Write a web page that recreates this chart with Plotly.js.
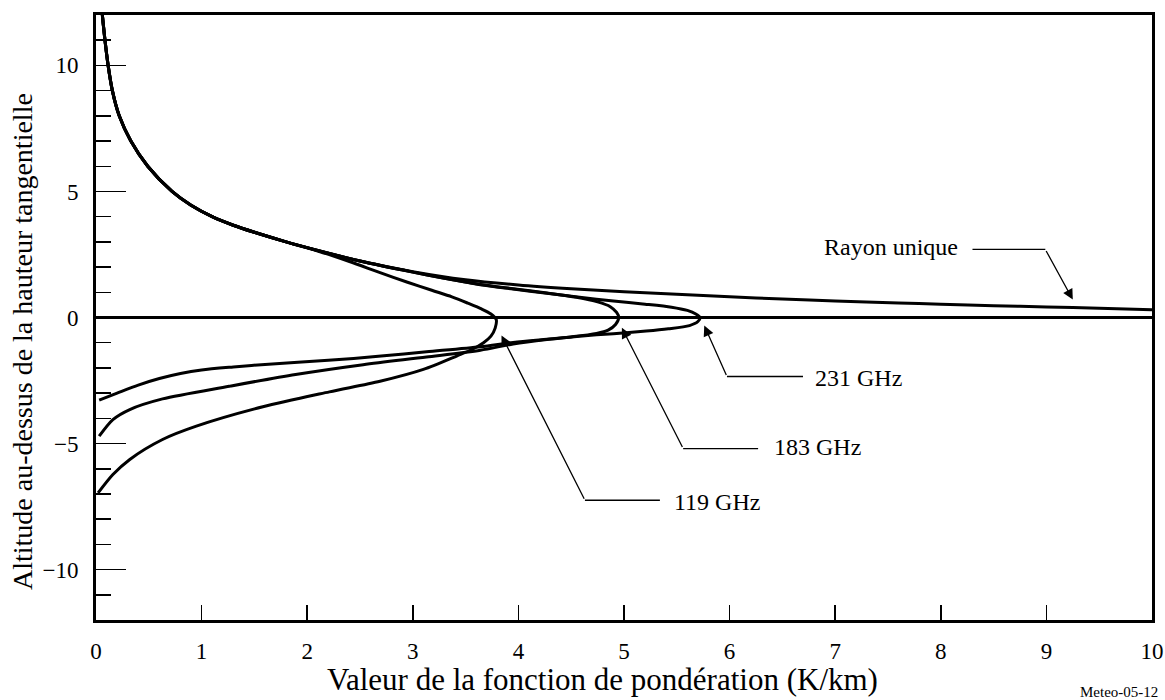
<!DOCTYPE html>
<html>
<head>
<meta charset="utf-8">
<script src="https://cdn.plot.ly/plotly-3.0.1.min.js"></script>
<style>html,body{margin:0;padding:0;background:#fff;}#chart{width:1165px;height:700px;}</style>
</head>
<body>
<div id="chart"></div>
<script>
// Single ray (Rayon unique)
var singleX = [0.06,0.085,0.115,0.155,0.22,0.33,0.49,0.72,0.9,1.1,1.3,1.5,1.8,2.1,2.5,3.0,3.5,4.0,4.5,5.0,5.5,6.0,6.5,7.0,7.6,8.0,8.5,9.0,9.5,10.0];
var singleY = [12,11,10,9,8,7,6,5,4.45,4.0,3.66,3.38,3.0,2.66,2.24,1.82,1.5,1.29,1.14,1.02,0.92,0.82,0.73,0.655,0.58,0.53,0.47,0.42,0.365,0.31];

// 119 GHz
var f119X = [0.06,0.085,0.115,0.155,0.22,0.33,0.49,0.72,0.9,1.1,1.3,1.5,1.8,2.1,2.4,2.69,2.95,3.18,3.37,3.52,3.65,3.74,3.79,3.78,3.74,3.67,3.56,3.42,3.1,2.69,2.21,1.58,0.95,0.63,0.32,0.16,0.02];
var f119Y = [12,11,10,9,8,7,6,5,4.45,4.0,3.66,3.38,3.0,2.64,2.22,1.78,1.4,1.08,0.82,0.57,0.34,0.14,-0.08,-0.42,-0.74,-1.0,-1.27,-1.52,-2.06,-2.53,-2.95,-3.54,-4.31,-4.84,-5.63,-6.23,-6.96];

// 183 GHz
var f183X = [0.06,0.085,0.115,0.155,0.22,0.33,0.49,0.72,0.9,1.1,1.3,1.5,1.8,2.1,2.5,3.0,3.3,3.64,3.95,4.27,4.55,4.75,4.87,4.93,4.95,4.92,4.85,4.74,4.5,4.27,3.95,3.64,3.13,2.53,1.89,1.26,0.63,0.32,0.16,0.03];
var f183Y = [12,11,10,9,8,7,6,5,4.45,4.0,3.66,3.38,3.0,2.66,2.24,1.8,1.56,1.31,1.14,0.97,0.8,0.62,0.43,0.2,0.0,-0.28,-0.5,-0.63,-0.77,-0.87,-1.05,-1.3,-1.57,-1.87,-2.26,-2.73,-3.23,-3.65,-4.05,-4.71];

// 231 GHz
var f231X = [0.06,0.085,0.115,0.155,0.22,0.33,0.49,0.72,0.9,1.1,1.3,1.5,1.8,2.1,2.5,3.0,3.3,3.64,3.95,4.27,4.58,4.9,5.2,5.45,5.6,5.68,5.72,5.7,5.62,5.42,5.21,4.9,4.58,4.27,3.95,3.64,3.13,2.7,2.2,1.6,1.3,1.0,0.8,0.6,0.4,0.2,0.03];
var f231Y = [12,11,10,9,8,7,6,5,4.45,4.0,3.66,3.38,3.0,2.66,2.24,1.8,1.56,1.3,1.13,0.96,0.8,0.65,0.53,0.41,0.28,0.14,0.0,-0.16,-0.32,-0.45,-0.54,-0.64,-0.74,-0.86,-0.99,-1.16,-1.36,-1.53,-1.7,-1.86,-1.96,-2.08,-2.22,-2.42,-2.68,-3.0,-3.28];

// Callout labels
var labelTexts = ["Rayon unique", "231 GHz", "183 GHz", "119 GHz"];
var tipX  = [9.25, 5.76, 4.98, 3.84];
var tipY  = [0.71, -0.32, -0.41, -0.71];
var bendX = [8.99, 5.975, 5.56, 4.63];
var bendY = [2.7, -2.34, -5.2, -7.25];
var endX  = [8.3, 6.695, 6.27, 5.34];
var textX = [8.18, 6.79, 6.40, 5.45];
var textY = [2.78, -2.38, -5.12, -7.3];
var textAnchor = ["right", "left", "left", "left"];

var xTicks = [0,1,2,3,4,5,6,7,8,9,10];
var yTicks = [-10,-5,0,5,10];

var FONT = "'Liberation Serif', 'Times New Roman', serif";
var lineStyle = {color: "black", width: 3, shape: "spline", smoothing: 0.8};

function tr(x, y) {
  return {x: x, y: y, mode: "lines", line: lineStyle, hoverinfo: "skip", showlegend: false};
}
var data = [tr(singleX, singleY), tr(f119X, f119Y), tr(f183X, f183Y), tr(f231X, f231Y)];

var annotations = [];
var shapes = [];
for (var i = 0; i < labelTexts.length; i++) {
  annotations.push({
    x: tipX[i], y: tipY[i], xref: "x", yref: "y",
    ax: bendX[i], ay: bendY[i], axref: "x", ayref: "y",
    text: "", showarrow: true, arrowhead: 2, arrowsize: 1.6, arrowwidth: 1.3,
    arrowcolor: "black", standoff: 0, startstandoff: 0
  });
  shapes.push({
    type: "line", xref: "x", yref: "y",
    x0: bendX[i], y0: bendY[i], x1: endX[i], y1: bendY[i],
    line: {color: "black", width: 1.3}
  });
  annotations.push({
    x: textX[i], y: textY[i], xref: "x", yref: "y",
    text: labelTexts[i], showarrow: false, xanchor: textAnchor[i], yanchor: "middle",
    font: {family: FONT, size: 24, color: "black"}
  });
}

var plotL = 96, plotW = 1165 - 96 - 13, plotT = 15, plotH = 700 - 15 - 80;
function px2paperX(px) { return (px - plotL) / plotW; }
function px2paperY(py) { return 1 - (py - plotT) / plotH; }

annotations.push({
  x: px2paperX(602), y: px2paperY(680), xref: "paper", yref: "paper",
  text: "Valeur de la fonction de pondération (K/km)", showarrow: false,
  xanchor: "center", yanchor: "middle",
  font: {family: FONT, size: 31, color: "black"}
});
annotations.push({
  x: px2paperX(22), y: px2paperY(342), xref: "paper", yref: "paper",
  text: "Altitude au-dessus de la hauteur tangentielle", showarrow: false, textangle: -90,
  xanchor: "center", yanchor: "middle",
  font: {family: FONT, size: 28, color: "black"}
});
annotations.push({
  x: px2paperX(1160), y: px2paperY(692), xref: "paper", yref: "paper",
  text: "Meteo-05-12", showarrow: false, xanchor: "right", yanchor: "middle",
  font: {family: FONT, size: 15, color: "black"}
});

var layout = {
  width: 1165, height: 700,
  margin: {l: 96, r: 13, t: 15, b: 80},
  paper_bgcolor: "white", plot_bgcolor: "white",
  showlegend: false,
  font: {family: FONT, size: 23, color: "black"},
  xaxis: {
    range: [0, 10], tickvals: xTicks, ticktext: xTicks.map(String),
    ticks: "inside", ticklen: 15, tickwidth: 1.5, tickcolor: "black",
    showline: true, mirror: true, linewidth: 3, linecolor: "black",
    showgrid: false, zeroline: false, ticklabelstandoff: 8,
    tickfont: {family: FONT, size: 23, color: "black"}
  },
  yaxis: {
    range: [-12, 12], tickvals: yTicks,
    ticks: "inside", ticklen: 30, tickwidth: 1.5, tickcolor: "black",
    minor: {dtick: 1, ticks: "inside", ticklen: 15, tickwidth: 1.5, tickcolor: "black", showgrid: false},
    showline: true, mirror: true, linewidth: 3, linecolor: "black",
    showgrid: false, zeroline: true, zerolinecolor: "black", zerolinewidth: 3,
    ticklabelstandoff: 10,
    tickfont: {family: FONT, size: 23, color: "black"}
  },
  shapes: shapes,
  annotations: annotations
};

Plotly.newPlot("chart", data, layout, {staticPlot: true, displayModeBar: false});
</script>
</body>
</html>
